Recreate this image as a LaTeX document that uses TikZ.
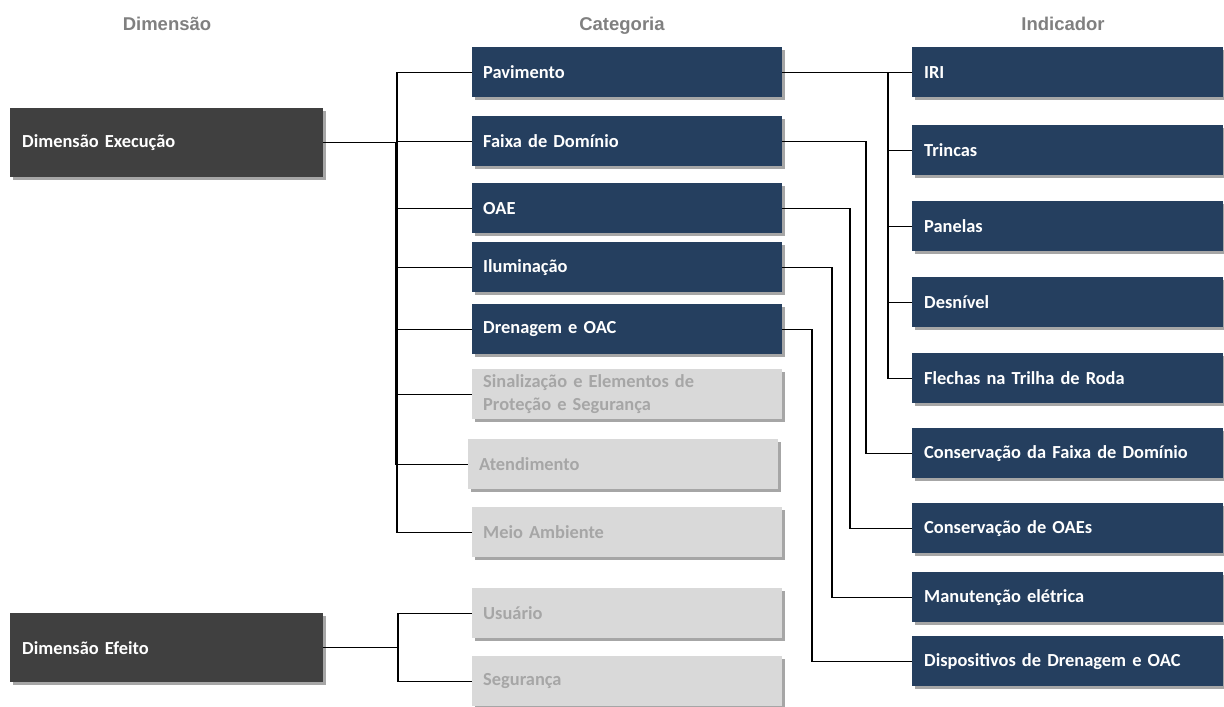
\documentclass[tikz,border=0pt]{standalone}
\usepackage{fontspec}
\setmainfont{Carlito}[WordSpace=0.8]
\newfontfamily\hdrfont{Liberation Sans}
\usetikzlibrary{shadows}
\definecolor{navy}{HTML}{253F5F}
\definecolor{darkbox}{HTML}{404040}
\definecolor{lightbox}{HTML}{D9D9D9}
\definecolor{lighttext}{HTML}{A6A6A6}
\definecolor{hdr}{HTML}{808080}
\begin{document}
\begin{tikzpicture}[x=1pt,y=-1pt,
  box/.style={rectangle, anchor=north west, minimum width=310pt, minimum height=50pt,
    text width=288pt, inner xsep=11pt, inner ysep=0pt, align=left,
    font=\bfseries\fontsize{18.4}{23.5}\selectfont,
    drop shadow={shadow xshift=2.5pt, shadow yshift=-2.5pt, opacity=0.35, fill=black}},
  navybox/.style={box, fill=navy, text=white},
  greybox/.style={box, fill=lightbox, text=lighttext},
  dimbox/.style={box, fill=darkbox, text=white, minimum width=313pt, text width=289pt, inner xsep=12pt, minimum height=69pt},
  indbox/.style={navybox, minimum width=311pt, text width=287pt, inner xsep=12pt},
  hdrlabel/.style={font=\hdrfont\bfseries\fontsize{18.5}{20}\selectfont, text=hdr, anchor=base},
  conn/.style={draw=black, line width=1.4pt}
]
\useasboundingbox (0,0) rectangle (1224,707);

% headers
\node[hdrlabel] (h1) at (167,30) {Dimensão};
\node[hdrlabel] (h2) at (622,30) {Categoria};
\node[hdrlabel] (h3) at (1063,30) {Indicador};

% dimension boxes
\node[dimbox] (dexec) at (10,108) {Dimensão Execução};
\node[dimbox] (defei) at (10,613) {Dimensão Efeito};

% category boxes
\node[navybox] (pav) at (472,47) {Pavimento};
\node[navybox] (faixa) at (472,116) {Faixa de Domínio};
\node[navybox] (oae) at (472,183) {OAE};
\node[navybox] (ilum) at (472,242) {Iluminação};
\node[navybox] (dren) at (472,304) {Drenagem e OAC};
\node[greybox] (sinal) at (472,369) {Sinalização e Elementos de\\Proteção e Segurança};
\node[greybox] (aten) at (468,439) {Atendimento};
\node[greybox] (meio) at (472,507) {Meio Ambiente};
\node[greybox] (usu) at (472,588) {Usuário};
\node[greybox] (seg) at (472,656) {Segurança};

% indicator boxes
\node[indbox] (iri) at (912,47) {IRI};
\node[indbox] (trin) at (912,125) {Trincas};
\node[indbox] (pan) at (912,201) {Panelas};
\node[indbox] (desn) at (912,277) {Desnível};
\node[indbox] (flec) at (912,353) {Flechas na Trilha de Roda};
\node[indbox] (cfaixa) at (912,428) {Conservação da Faixa de Domínio};
\node[indbox] (coae) at (912,503) {Conservação de OAEs};
\node[indbox] (manut) at (912,572) {Manutenção elétrica};
\node[indbox] (disp) at (912,636) {Dispositivos de Drenagem e OAC};

% trunk coordinates
\coordinate (tE) at (397,0);
\coordinate (tE2) at (395.5,0);
\coordinate (tF) at (398,0);
\coordinate (tP) at (888,0);
\coordinate (tFx) at (866,0);
\coordinate (tO) at (850,0);
\coordinate (tI) at (832,0);
\coordinate (tD) at (812,0);

% dimension -> category
\foreach \c in {pav,faixa,oae,ilum,dren,sinal,meio}{
  \draw[conn] (dexec.east) -- (dexec.east -| tE) |- (\c.west);
}
\draw[conn] (dexec.east) -- (dexec.east -| tE2) |- (aten.west);
\draw[conn] (defei.east) -- (defei.east -| tF) |- (usu.west);
\draw[conn] (defei.east) -- (defei.east -| tF) |- (seg.west);

% category -> indicator
\foreach \i in {iri,trin,pan,desn,flec}{
  \draw[conn] (pav.east) -- (pav.east -| tP) |- (\i.west);
}
\draw[conn] (faixa.east) -- (faixa.east -| tFx) |- (cfaixa.west);
\draw[conn] (oae.east) -- (oae.east -| tO) |- (coae.west);
\draw[conn] (ilum.east) -- (ilum.east -| tI) |- (manut.west);
\draw[conn] (dren.east) -- (dren.east -| tD) |- (disp.west);
\end{tikzpicture}
\end{document}
